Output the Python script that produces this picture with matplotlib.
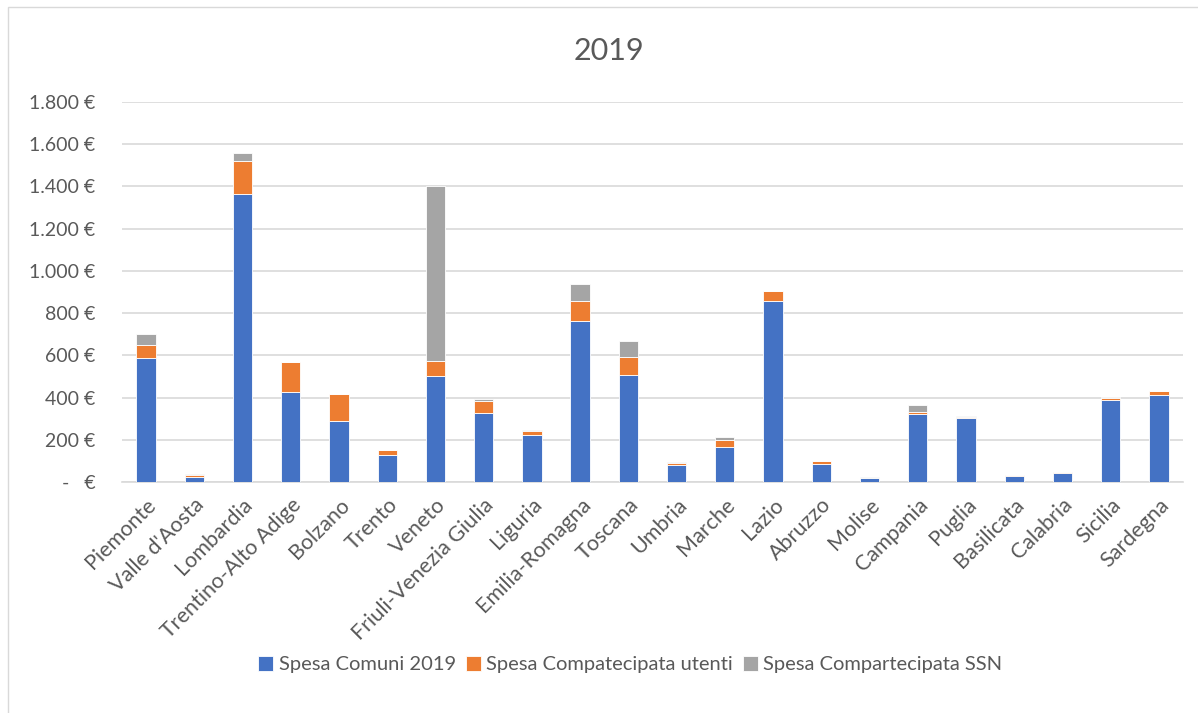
import matplotlib
matplotlib.use("Agg")
import matplotlib.pyplot as plt
from matplotlib.patches import Rectangle
import numpy as np

regions = ["Piemonte", "Valle d'Aosta", "Lombardia", "Trentino-Alto Adige", "Bolzano",
           "Trento", "Veneto", "Friuli-Venezia Giulia", "Liguria", "Emilia-Romagna",
           "Toscana", "Umbria", "Marche", "Lazio", "Abruzzo", "Molise", "Campania",
           "Puglia", "Basilicata", "Calabria", "Sicilia", "Sardegna"]
spesa_comuni = [589, 24, 1364, 426, 291, 130, 504, 328, 223, 764, 507, 82, 167, 859,
                87, 20, 324, 303, 30, 41, 387, 411]
spesa_utenti = [60, 10, 157, 144, 124, 22, 69, 54, 20, 95, 83, 6, 33, 44,
                11, 1, 9, 6, 1, 6, 11, 20]
spesa_ssn = [54, 3, 37, 0, 0, 0, 829, 10, 3, 79, 76, 7, 15, 2,
             2, 1, 32, 3, 1, 0, 3, 0]
series_names = ["Spesa Comuni 2019", "Spesa Compatecipata utenti", "Spesa Compartecipata SSN"]
yticks = [0, 200, 400, 600, 800, 1000, 1200, 1400, 1600, 1800]
ytick_labels = ["-   €", "200 €", "400 €", "600 €", "800 €", "1.000 €", "1.200 €",
                "1.400 €", "1.600 €", "1.800 €"]

colors = ["#4472C4", "#ED7D31", "#A5A5A5"]
txt = "#595959"
plt.rcParams['font.family'] = ['Lato', 'DejaVu Sans']

fig = plt.figure(figsize=(11.98, 7.13), dpi=100)
fig.patches.append(Rectangle((0.007, -0.01), 1.1, 1.0, transform=fig.transFigure,
                             fill=False, edgecolor="#D9D9D9", linewidth=1))
ax = fig.add_axes([0.1018, 0.324, 0.9875 - 0.1018, 0.857 - 0.324])

x = np.arange(len(regions))
b1 = np.array(spesa_comuni)
b2 = np.array(spesa_utenti)
b3 = np.array(spesa_ssn)
w = 0.4
ax.bar(x, b1, w, color=colors[0], edgecolor="white", linewidth=0.6, label=series_names[0], zorder=3)
ax.bar(x, b2, w, bottom=b1, color=colors[1], edgecolor="white", linewidth=0.6, label=series_names[1], zorder=3)
ax.bar(x, b3, w, bottom=b1 + b2, color=colors[2], edgecolor="white", linewidth=0.6, label=series_names[2], zorder=3)

ax.set_xlim(-0.5, len(regions) - 0.5)
ax.set_ylim(0, 1800)
ax.set_yticks(yticks)
ax.set_yticklabels(ytick_labels, color=txt, fontsize=14)
ax.yaxis.grid(True, color="#D9D9D9", linewidth=1.2, zorder=0)
ax.set_axisbelow(True)
for s in ["top", "right", "left"]:
    ax.spines[s].set_visible(False)
ax.spines["bottom"].set_color("#D9D9D9")
ax.spines["bottom"].set_linewidth(1.2)
ax.tick_params(axis="both", length=0)
ax.tick_params(axis="y", pad=19)
ax.set_xticks(x)
ax.set_xticklabels(regions, rotation=45, ha="right", rotation_mode="anchor",
                   color=txt, fontsize=15.5)
ax.tick_params(axis="x", pad=9)

fig.text(0.508, 0.928, "2019", ha="center", va="center", fontsize=22, color=txt)

fig.legend(loc="center", bbox_to_anchor=(0.526, 0.068), ncol=3, frameon=False,
           fontsize=14.5, handlelength=0.75, handleheight=0.75, handletextpad=0.25,
           columnspacing=0.5, labelcolor=txt)

fig.savefig("out.png", dpi=100)
